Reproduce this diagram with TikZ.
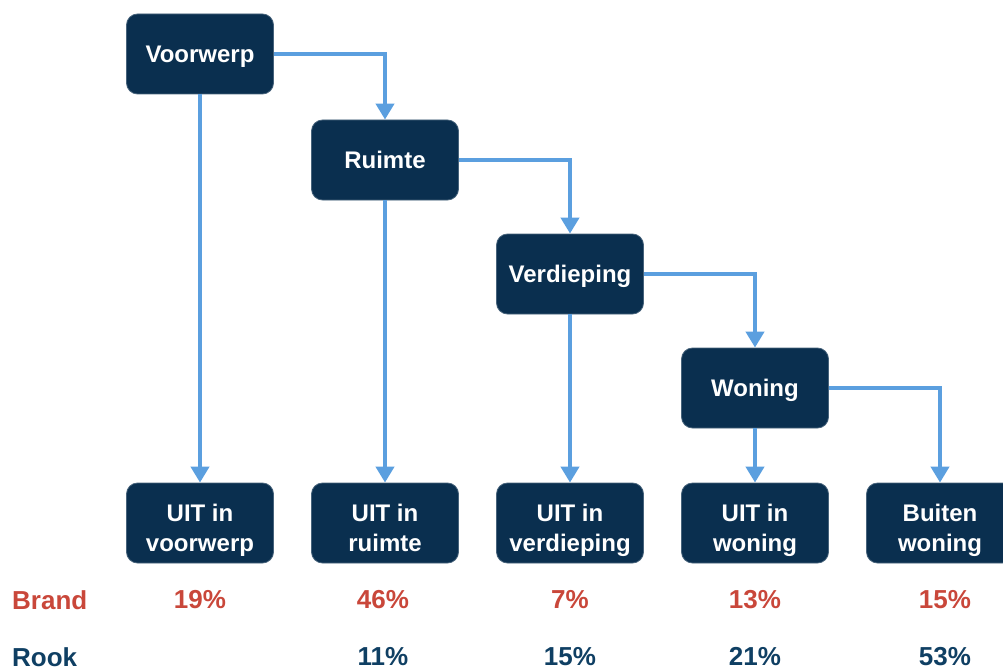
\documentclass[tikz,border=0pt]{standalone}
\usepackage{fontspec}
\setmainfont{Liberation Sans}
\usetikzlibrary{arrows.meta}
\definecolor{navy}{RGB}{10,47,79}
\definecolor{skyline}{RGB}{91,159,223}
\definecolor{brandred}{RGB}{201,71,58}
\definecolor{rookblue}{RGB}{15,63,99}
\tikzset{
  box/.style={fill=navy, draw=navy!75!white, line width=0.8pt, rounded corners=11pt,
    minimum width=147pt, minimum height=80pt, inner sep=0pt, align=center,
    text=white, font=\fontsize{24}{30}\selectfont\bfseries,
    text height=17pt, text depth=0pt},
  twoline/.style={text height=57pt},
  flow/.style={draw=skyline, line width=4.5pt, -{Triangle[width=18pt,length=16pt]}},
  pct/.style={font=\fontsize{26}{30}\selectfont\bfseries, inner sep=0pt}
}

\begin{document}
\begin{tikzpicture}[x=1pt,y=-1pt]
  \useasboundingbox (0,0) rectangle (1003,671);

  % trap van voorwerp naar woning
  \node[box] (voorwerp) at (200,54) {Voorwerp};
  \node[box] (ruimte) at (385,160) {Ruimte};
  \node[box] (verdieping) at (570,274) {Verdieping};
  \node[box] (woning) at (755,388) {Woning};

  % uitkomsten
  \node[box,twoline] (uitvoorwerp) at (200,523) {UIT in\\voorwerp};
  \node[box,twoline] (uitruimte) at (385,523) {UIT in\\ruimte};
  \node[box,twoline] (uitverdieping) at (570,523) {UIT in\\verdieping};
  \node[box,twoline] (uitwoning) at (755,523) {UIT in\\woning};
  \node[box,twoline] (buiten) at (940,523) {Buiten\\woning};

  \draw[flow] (voorwerp.east) -| (ruimte.north);
  \draw[flow] (ruimte.east) -| (verdieping.north);
  \draw[flow] (verdieping.east) -| (woning.north);
  \draw[flow] (woning.east) -| (buiten.north);
  \draw[flow] (voorwerp.south) -- (uitvoorwerp.north);
  \draw[flow] (ruimte.south) -- (uitruimte.north);
  \draw[flow] (verdieping.south) -- (uitverdieping.north);
  \draw[flow] (woning.south) -- (uitwoning.north);

  % percentages
  \node[pct, text=brandred, anchor=west] (brand) at (12,600) {Brand};
  \node[pct, text=brandred] (b1) at (200,600) {19\%};
  \node[pct, text=brandred] (b2) at (383,600) {46\%};
  \node[pct, text=brandred] (b3) at (570,600) {7\%};
  \node[pct, text=brandred] (b4) at (755,600) {13\%};
  \node[pct, text=brandred] (b5) at (945,600) {15\%};

  \node[pct, text=rookblue, anchor=west] (rook) at (12,657) {Rook};
  \node[pct, text=rookblue] (r2) at (383,657) {11\%};
  \node[pct, text=rookblue] (r3) at (570,657) {15\%};
  \node[pct, text=rookblue] (r4) at (755,657) {21\%};
  \node[pct, text=rookblue] (r5) at (945,657) {53\%};
\end{tikzpicture}
\end{document}
